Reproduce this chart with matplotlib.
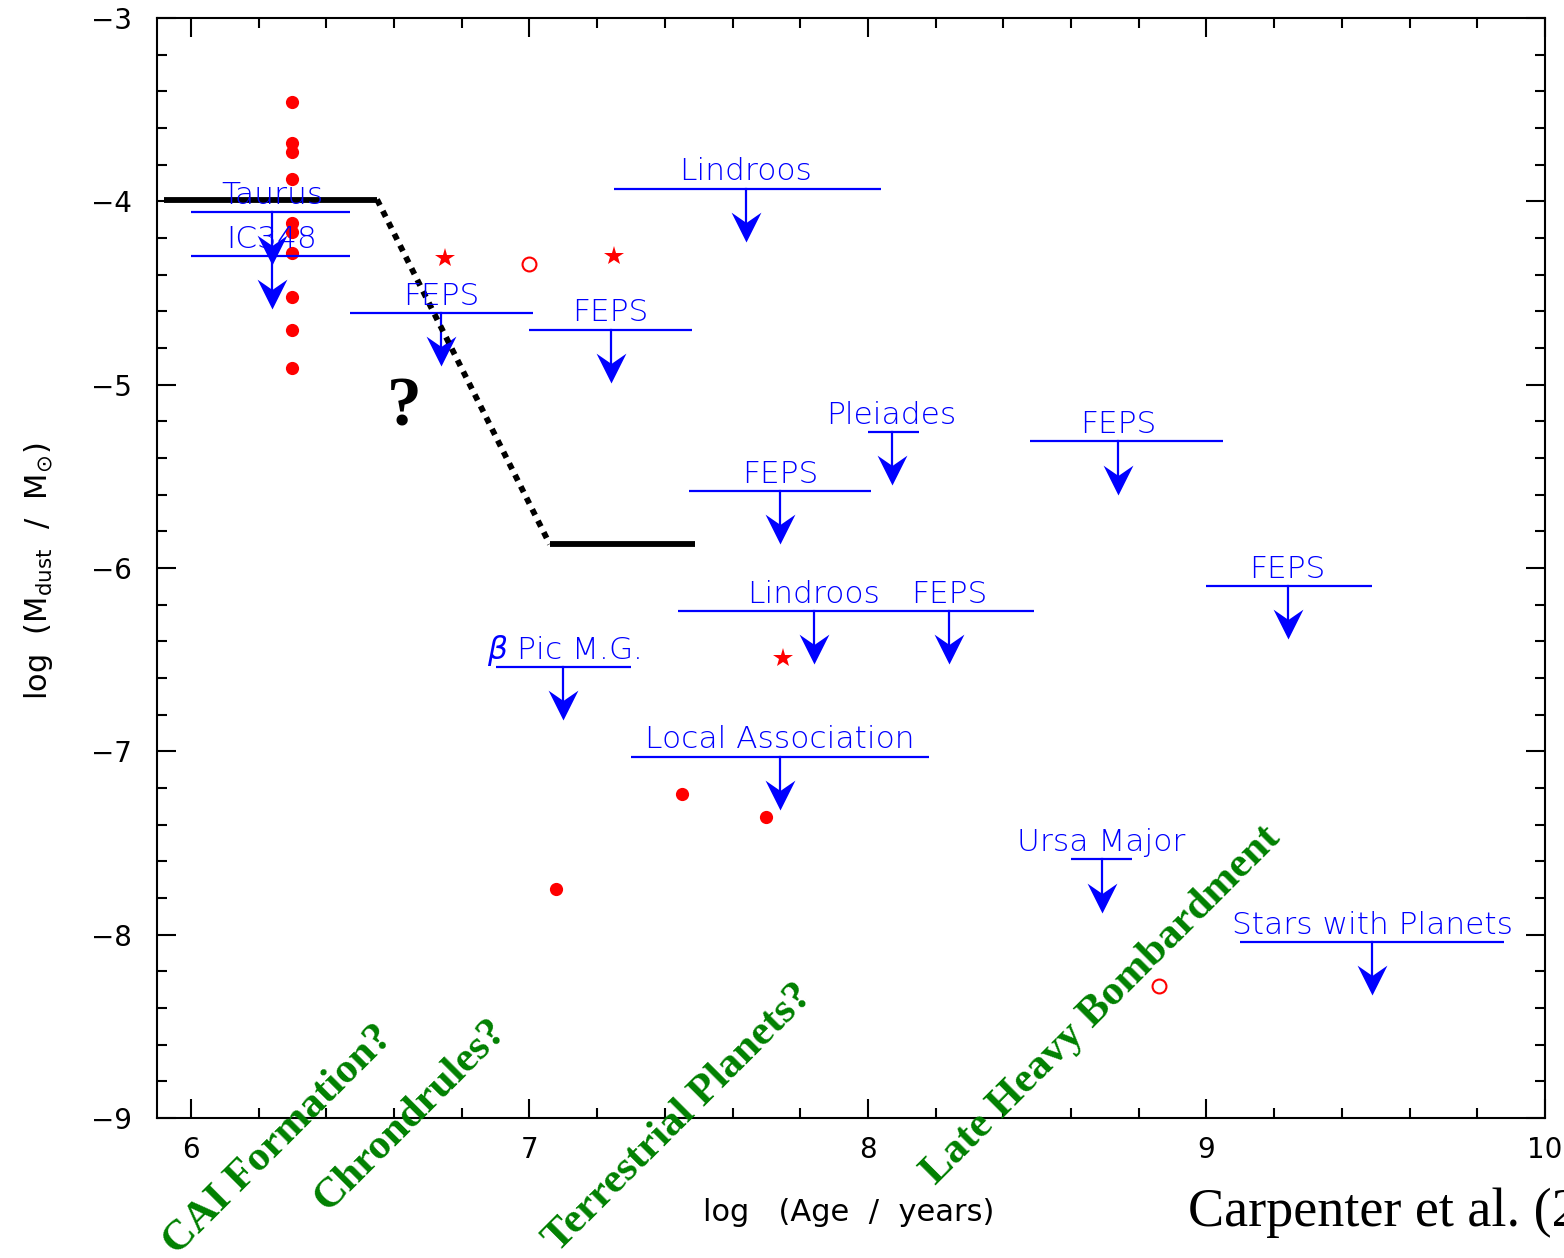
import numpy as np
import matplotlib
matplotlib.use("Agg")
import matplotlib.pyplot as plt
from matplotlib.ticker import MultipleLocator
from matplotlib.path import Path

# detections: filled circles, stars, open circles (log age, log dust mass)
dot_age = [6.30, 6.30, 6.30, 6.30, 6.30, 6.30, 6.30, 6.30, 6.30, 6.30, 7.08, 7.45, 7.70]
dot_mass = [-3.46, -3.68, -3.73, -3.88, -4.12, -4.17, -4.28, -4.52, -4.70, -4.91, -7.75, -7.23, -7.36]
star_age = [6.75, 7.25, 7.75]
star_mass = [-4.31, -4.30, -6.49]
ring_age = [7.00, 8.86]
ring_mass = [-4.34, -8.28]

# upper limits per group: name, arrow age, limit, age range of the bar
lim_name = ["Taurus", "IC348", "FEPS", "FEPS", "Lindroos", "Pleiades", "FEPS", "FEPS",
            "FEPS", "Lindroos", "FEPS", r"$\beta$ Pic M.G.", "Local Association",
            "Ursa Major", "Stars with Planets"]
lim_age = [6.24, 6.24, 6.74, 7.24, 7.64, 8.07, 8.74, 7.74, 9.24, 7.84, 8.24, 7.10, 7.74, 8.69, 9.49]
lim_mass = [-4.06, -4.30, -4.61, -4.70, -3.93, -5.26, -5.31, -5.58, -6.10, -6.235, -6.235,
            -6.54, -7.03, -7.59, -8.04]
lim_lo = [6.00, 6.00, 6.47, 7.00, 7.25, 8.00, 8.48, 7.47, 9.00, 7.44, 8.04, 6.90, 7.30, 8.60, 9.10]
lim_hi = [6.47, 6.47, 7.01, 7.48, 8.04, 8.15, 9.05, 8.01, 9.49, 8.04, 8.49, 7.30, 8.18, 8.78, 9.88]
arrow_len = 0.29

# schematic disk-mass evolution
trend_age = [5.92, 6.55, 7.06, 7.49]
trend_mass = [-3.99, -3.99, -5.87, -5.87]

# solar system events
event_text = ["CAI Formation?", "Chrondrules?", "Terrestrial Planets?", "Late Heavy Bombardment"]
event_age = [6.26, 6.65, 7.44, 8.69]
event_mass = [-9.12, -8.985, -9.00, -8.385]

# notched arrowhead, tip at the origin
head = Path([(0, 0), (-0.55, 1.1), (0, 0.72), (0.55, 1.1), (0, 0)],
            [Path.MOVETO, Path.LINETO, Path.LINETO, Path.LINETO, Path.CLOSEPOLY])

fig = plt.figure(figsize=(15.64, 12.58), dpi=100)
ax = fig.add_axes([157 / 1564, 1 - 1118 / 1258, 1388 / 1564, 1100 / 1258])

ax.plot(dot_age, dot_mass, "o", color="red", ms=9.5, mew=0)
ax.plot(star_age, star_mass, "*", color="red", ms=15, mew=0)
ax.plot(ring_age, ring_mass, "o", mfc="none", mec="red", ms=10, mew=1.5)

for name, a, m, lo, hi in zip(lim_name, lim_age, lim_mass, lim_lo, lim_hi):
    ax.plot([lo, hi], [m, m], color="blue", lw=1.6, solid_capstyle="butt")
    ax.plot([a, a], [m, m - arrow_len + 0.05], color="blue", lw=1.6)
    ax.plot([a], [m - arrow_len], marker=head, color="blue", ms=43, mew=0)
    ax.annotate(name, xy=(a, m), xytext=(0, 6), textcoords="offset points",
                ha="center", va="baseline", color="blue", fontsize=22.5,
                fontweight="light")

ax.plot(trend_age[:2], trend_mass[:2], color="black", lw=4.2, solid_capstyle="butt")
ax.plot(trend_age[1:3], trend_mass[1:3], color="black", lw=4.2,
        linestyle=(0, (1.1, 1.1)), dash_capstyle="butt")
ax.plot(trend_age[2:], trend_mass[2:], color="black", lw=4.2, solid_capstyle="butt")
ax.text(6.63, -5.13, "?", fontsize=50, fontweight="bold", family="Liberation Serif",
        ha="center", va="center")

for t, a, m in zip(event_text, event_age, event_mass):
    ax.text(a, m, t, rotation=45, rotation_mode="anchor", ha="center", va="center",
            color="#008000", fontsize=31, fontweight="bold", family="Liberation Serif",
            clip_on=False)

ax.set_xlim(5.9, 10)
ax.set_ylim(-9, -3)
ax.xaxis.set_major_locator(MultipleLocator(1))
ax.xaxis.set_minor_locator(MultipleLocator(0.2))
ax.yaxis.set_major_locator(MultipleLocator(1))
ax.yaxis.set_minor_locator(MultipleLocator(0.2))
ax.tick_params(which="both", direction="in", top=True, right=True, width=1.5)
ax.tick_params(which="major", length=14, labelsize=20)
ax.tick_params(which="minor", length=7)
ax.tick_params(axis="y", pad=18)
ax.tick_params(axis="x", pad=13)
for s in ax.spines.values():
    s.set_linewidth(1.5)

ax.set_xlabel("log   (Age  /  years)", fontsize=22)
ax.set_ylabel(r"log  (M$_{\rm dust}$  /  M$_{\odot}$)", fontsize=22)
ax.xaxis.set_label_coords(0.498, -0.0727)
ax.yaxis.set_label_coords(-0.0735, 0.497)

fig.text(1188 / 1564, 1 - 1213 / 1258, "Carpenter et al. (2005)", fontsize=39,
         family="Liberation Serif", va="center", ha="left")

fig.savefig("out.png", dpi=100)
